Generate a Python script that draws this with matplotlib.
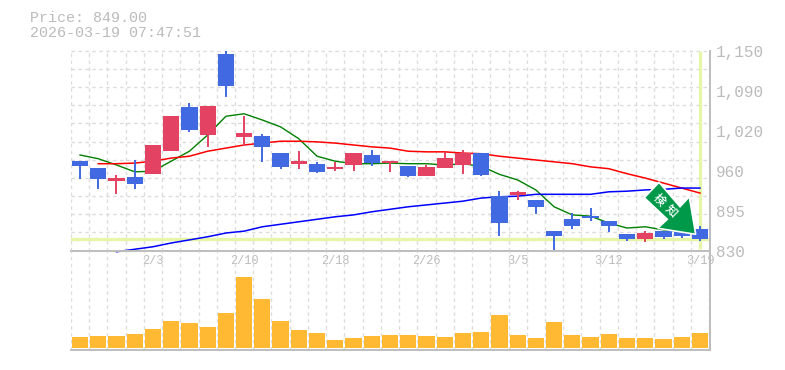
import matplotlib
matplotlib.use("Agg")
import matplotlib.pyplot as plt
from matplotlib.patches import Polygon, Rectangle
from matplotlib.transforms import IdentityTransform

# price data
opens = [973, 962, 941, 948, 952, 989, 1060, 1015, 1144, 1012, 1014, 986, 969, 969, 960, 967,
         983, 970, 965, 949, 962, 967, 986, 917, 919, 911, 861, 880, 885, 878, 856, 848, 862, 859, 864]
closes = [965, 944, 946, 936, 999, 1046, 1023, 1062, 1094, 1018, 996, 964, 973, 956, 964, 986,
          970, 973, 949, 964, 978, 986, 951, 874, 923, 899, 853, 870, 882, 869, 848, 858, 851, 853, 849]
highs = [973, 962, 951, 975, 999, 1046, 1067, 1062, 1150, 1046, 1017, 986, 989, 972, 972, 986,
         991, 973, 965, 967, 988, 991, 986, 925, 925, 911, 861, 890, 898, 878, 856, 861, 862, 859, 869]
lows = [944, 928, 920, 928, 952, 989, 1020, 996, 1076, 997, 972, 960, 960, 954, 957, 957,
        965, 956, 948, 949, 962, 952, 949, 854, 911, 888, 830, 864, 877, 859, 845, 843, 848, 850, 845]
ma_short = [983, 977, 967, 956, 957, 973, 989, 1015, 1045, 1049, 1039, 1028, 1009, 981, 973, 969,
            969, 970, 969, 969, 967, 969, 965, 952, 943, 927, 900, 887, 885, 874, 866, 868, 863, 860, 855]
ma_mid = [None, 969, 969, 970, 973, 978, 981, 989, 994, 999, 1002, 1005, 1005, 1004, 1002, 999,
          996, 994, 989, 988, 988, 986, 985, 981, 978, 975, 972, 969, 964, 961, 953, 946, 938, 930, 922]
ma_long = [None, None, 828, 832, 836, 842, 847, 852, 858, 861, 868, 872, 876, 880, 884, 887,
           892, 896, 900, 903, 906, 909, 914, 916, 917, 920, 920, 920, 920, 924, 925, 927, 928, 930, 930]
volume = [11, 12, 12, 14, 19, 27, 25, 21, 35, 71, 49, 27, 18, 15, 8, 10, 12, 13,
          13, 12, 11, 15, 16, 33, 13, 10, 26, 13, 11, 14, 10, 10, 9, 11, 15]
price_ticks = [1150, 1086, 1022, 958, 894, 830]
price_labels = ["1,150", "1,090", "1,020", "960", "895", "830"]
date_pos = [4, 9, 14, 19, 24, 29, 34]
date_labels = ["2/3", "2/10", "2/18", "2/26", "3/5", "3/12", "3/19"]
last_price = 849.0
stamp = "2026-03-19 07:47:51"

W, H = 785, 370
BLUE = "#4169e1"
RED = "#e34262"
GRID = "#dcdcdc"
TXT = "#bbbbbb"
HILITE = "#e6f6a9"
MONO = "Liberation Mono"


def px_axes(left, top, right, bottom):
    return fig.add_axes([left / W, 1 - bottom / H, (right - left) / W, (bottom - top) / H])


fig = plt.figure(figsize=(W / 100, H / 100), dpi=100)
ax = px_axes(70.7, 50.7, 710, 250.5)
axv = px_axes(70.7, 250.5, 710, 350)

xs = list(range(len(closes)))
x_lim = (-0.51, 34.55)
grid_x = [i - 0.5 for i in range(len(closes) + 1)]

for a in (ax, axv):
    a.set_xlim(x_lim)
    a.set_xticks([])
    a.set_yticks([])
    for s in ("top", "left"):
        a.spines[s].set_visible(False)
    for s in ("right", "bottom"):
        a.spines[s].set_color("#bdbdbd")
        a.spines[s].set_linewidth(1.4)
    for gx in grid_x:
        a.axvline(gx, color=GRID, lw=1, ls=(0, (2.5, 2.5)), zorder=0)
    a.patch.set_alpha(0)

ax.set_ylim(830, 1150)
for i in range(1, 11):
    ax.axhline(830 + i * 320 / 11, color=GRID, lw=1, ls=(0, (2.5, 2.5)), zorder=0)
ax.axhline(1150, color=GRID, lw=1, ls=(0, (2.5, 2.5)), zorder=0, clip_on=False)

# current price cross
ax.axhline(last_price, color=HILITE, lw=2.4, zorder=1)
ax.plot([xs[-1], xs[-1]], [832, 1150], color=HILITE, lw=2.4, zorder=1, solid_capstyle="butt")

# candles
for i in xs:
    col = RED if closes[i] > opens[i] else BLUE
    ax.plot([i, i], [lows[i], highs[i]], color=col, lw=1.4, zorder=3, solid_capstyle="butt", clip_on=False)
    ax.add_patch(Rectangle((i - 0.445, min(opens[i], closes[i])), 0.89, abs(closes[i] - opens[i]),
                           facecolor=col, edgecolor="none", zorder=3))

# moving averages
ax.plot(xs, ma_short, color="#008000", lw=1, zorder=2)
ax.plot(xs, [float("nan") if v is None else v for v in ma_mid], color="#ff0000", lw=1.1, zorder=2)
ax.plot(xs, [float("nan") if v is None else v for v in ma_long], color="#0000ff", lw=1.1, zorder=2, clip_on=False)

# volume
axv.set_ylim(-2, 97.5)
axv.bar(xs, volume, width=0.89, color="#ffb933", zorder=3)

for v, lab in zip(price_ticks, price_labels):
    ax.annotate(lab, (1, v), xycoords=ax.get_yaxis_transform(), xytext=(6, -2), textcoords="offset pixels",
                ha="left", va="center", color=TXT, fontsize=11.5, family=MONO, annotation_clip=False)
for p, lab in zip(date_pos, date_labels):
    ax.annotate(lab, (p, 0), xycoords=ax.get_xaxis_transform(), xytext=(0, -11), textcoords="offset pixels",
                ha="center", va="center", color=TXT, fontsize=8.6, family=MONO, annotation_clip=False)

fig.text(30 / W, 1 - 18 / H, "Price: %.2f" % last_price, color=TXT, fontsize=10.8, family=MONO, va="center")
fig.text(30 / W, 1 - 33 / H, stamp, color=TXT, fontsize=10.8, family=MONO, va="center")

# signal arrow, pixel outline
arrow_px = [(659, 182.3), (644.3, 197.7), (667.3, 219.3), (657.7, 228.3), (695.7, 234.3), (689.3, 196.7), (680, 206.7)]
arrow = Polygon([(x, H - y) for x, y in arrow_px], closed=True, facecolor="#00994a", edgecolor="white", lw=1.2,
                transform=IdentityTransform(), zorder=6)
fig.add_artist(arrow)
for ch, cx, cy in (("検", 659.5, 199.5), ("知", 671, 211)):
    fig.text(cx / W, 1 - cy / H, ch, color="white", fontsize=8.5, fontweight="medium", rotation=-45, ha="center",
             va="center", family="Noto Sans CJK JP", rotation_mode="anchor", zorder=7)

fig.savefig("out.png", dpi=100)
